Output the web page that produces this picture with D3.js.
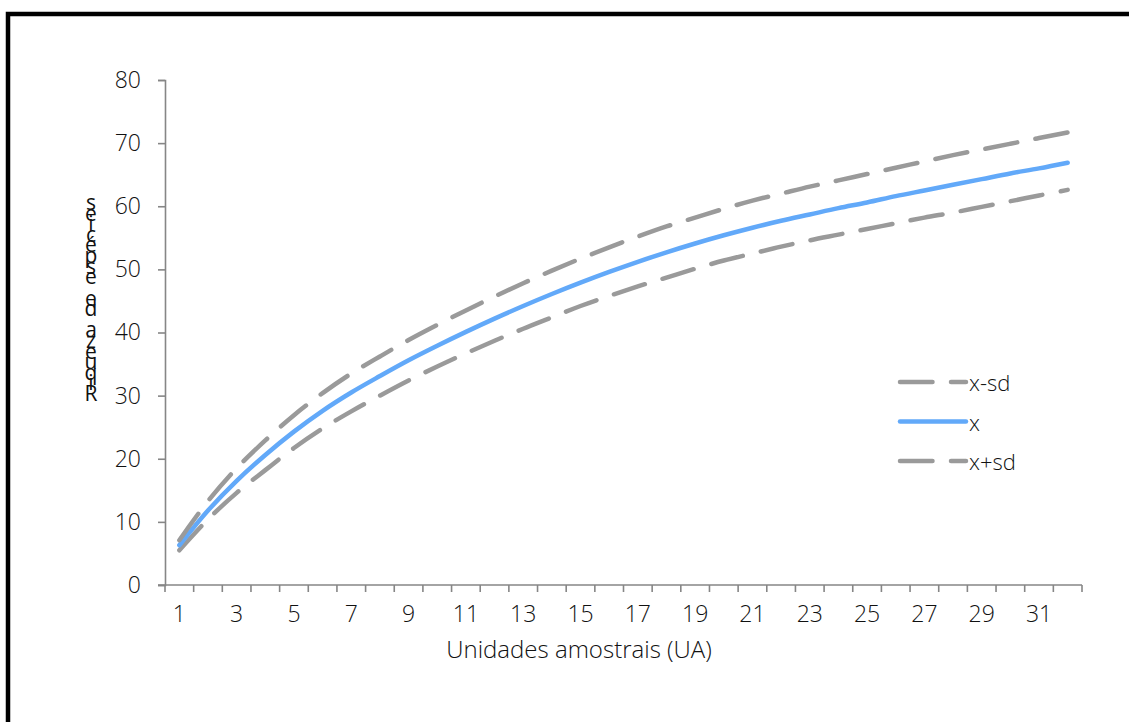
<!DOCTYPE html>
<html>
<head>
<meta charset="utf-8">
<script src="https://cdn.jsdelivr.net/npm/d3@7"></script>
<style>
  html, body { margin: 0; padding: 0; background: #fff; }
  svg text { font-family: "Open Sans", "Noto Sans", sans-serif; font-weight: 300; fill: #111; }
</style>
</head>
<body>
<svg id="chart" width="1129" height="722"></svg>
<script>
// Sampling units (UA)
const units = d3.range(1, 33);
// Mean species richness per number of sampling units
const meanRichness = [6.3, 11.8, 16.5, 20.6, 24.3, 27.6, 30.5, 33.1, 35.6, 37.9, 40.1, 42.2, 44.2, 46.1, 47.9, 49.6,
                      51.2, 52.7, 54.1, 55.4, 56.6, 57.7, 58.7, 59.7, 60.6, 61.6, 62.5, 63.4, 64.3, 65.2, 66.0, 66.9];
// Mean minus one standard deviation
const lowerRichness = [5.5, 10.4, 14.6, 18.2, 21.7, 24.8, 27.5, 30.0, 32.4, 34.6, 36.7, 38.7, 40.6, 42.4, 44.2, 45.8,
                       47.3, 48.7, 50.1, 51.4, 52.5, 53.6, 54.6, 55.5, 56.4, 57.3, 58.2, 59.0, 59.9, 60.8, 61.7, 62.6];
// Mean plus one standard deviation
const upperRichness = [7.1, 13.3, 18.5, 22.9, 26.9, 30.4, 33.5, 36.2, 38.8, 41.2, 43.5, 45.7, 47.8, 49.8, 51.7, 53.5,
                       55.2, 56.8, 58.2, 59.6, 60.9, 62.0, 63.1, 64.1, 65.1, 66.1, 67.1, 68.1, 69.0, 69.9, 70.8, 71.7];
const yTicks = [0, 10, 20, 30, 40, 50, 60, 70, 80];
const xLabelUnits = units.filter(d => d % 2 === 1);

const seriesList = [
  { name: "x-sd", values: lowerRichness, color: "#9a9a9a", dashed: true },
  { name: "x", values: meanRichness, color: "#62a9f9", dashed: false },
  { name: "x+sd", values: upperRichness, color: "#9a9a9a", dashed: true }
];

const svg = d3.select("#chart");
const axisColor = "#868686";
const dash = "32.5,18.5";

// outer frame
svg.append("rect")
  .attr("x", 8).attr("y", 14)
  .attr("width", 1300).attr("height", 900)
  .attr("fill", "none").attr("stroke", "#000").attr("stroke-width", 4.5);

const x = d3.scaleBand().domain(units).range([165, 1082]).paddingInner(0).paddingOuter(0);
const y = d3.scaleLinear().domain([0, 80]).range([585, 80]);

// y axis
const yAxis = svg.append("g").attr("transform", "translate(165,0)")
  .call(d3.axisLeft(y).tickValues(yTicks).tickSize(7).tickPadding(17));
yAxis.select(".domain").attr("stroke", axisColor).attr("stroke-width", 1.6);
yAxis.selectAll(".tick line").attr("stroke", axisColor).attr("stroke-width", 1.6);
yAxis.selectAll(".tick text").style("font-size", "23px").attr("fill", "#111");

// x axis: ticks at category boundaries, labels on odd categories
const xAxisG = svg.append("g");
xAxisG.append("line")
  .attr("x1", x.range()[0] - 7).attr("x2", x.range()[1])
  .attr("y1", y(0)).attr("y2", y(0))
  .attr("stroke", axisColor).attr("stroke-width", 1.6);
const boundaries = units.map(d => x(d)).concat([x(units[units.length - 1]) + x.bandwidth()]);
xAxisG.selectAll("line.tk").data(boundaries).join("line")
  .attr("class", "tk")
  .attr("x1", d => d).attr("x2", d => d)
  .attr("y1", y(0)).attr("y2", y(0) + 7)
  .attr("stroke", axisColor).attr("stroke-width", 1.6);
xAxisG.selectAll("text").data(xLabelUnits).join("text")
  .attr("x", d => x(d) + x.bandwidth() / 2)
  .attr("y", y(0) + 37)
  .attr("text-anchor", "middle")
  .style("font-size", "23px")
  .text(d => d);

// axis titles
svg.append("text")
  .attr("x", 579).attr("y", 658)
  .attr("text-anchor", "middle")
  .style("font-size", "24px")
  .text("Unidades amostrais (UA)");

// stacked vertical y title, read from bottom to top
const yTitle = "Riqueza de espécies";
const chars = Array.from(yTitle).reverse();
const yTitleTop = 202, yTitleBottom = 393;
const step = (yTitleBottom - yTitleTop) / (chars.length - 1);
svg.append("g").selectAll("text").data(chars).join("text")
  .attr("x", 91)
  .attr("y", (d, i) => yTitleTop + i * step)
  .attr("text-anchor", "middle")
  .attr("dominant-baseline", "central")
  .style("font-size", "21px")
  .style("font-weight", 400)
  .text(d => d);

// series lines
const line = d3.line()
  .x((d, i) => x(units[i]) + x.bandwidth() / 2)
  .y(d => y(d))
  .curve(d3.curveCatmullRom.alpha(0.5));

seriesList.forEach(s => {
  svg.append("path")
    .datum(s.values)
    .attr("d", line)
    .attr("fill", "none")
    .attr("stroke", s.color)
    .attr("stroke-width", 4.5)
    .attr("stroke-linecap", "round")
    .attr("stroke-linejoin", "round")
    .attr("stroke-dasharray", s.dashed ? dash : null);
});

// legend
const legend = svg.append("g");
seriesList.forEach((s, i) => {
  const ly = 382 + i * 39.5;
  legend.append("line")
    .attr("x1", 900).attr("x2", 966)
    .attr("y1", ly).attr("y2", ly)
    .attr("stroke", s.color)
    .attr("stroke-width", 4.5)
    .attr("stroke-linecap", "round")
    .attr("stroke-dasharray", s.dashed ? dash : null);
  legend.append("text")
    .attr("x", 969).attr("y", ly)
    .attr("dominant-baseline", "central")
    .style("font-size", "22px")
    .text(s.name);
});
</script>
</body>
</html>
